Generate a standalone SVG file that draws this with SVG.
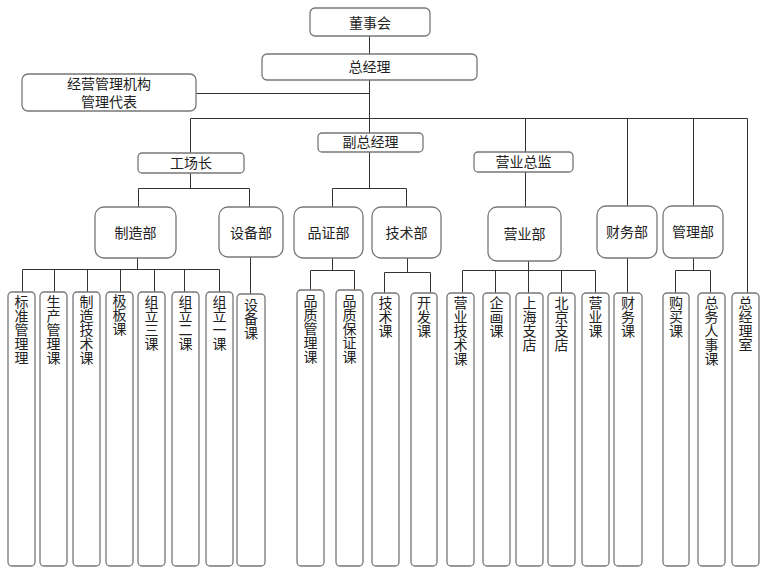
<svg xmlns="http://www.w3.org/2000/svg" width="776" height="572" viewBox="0 0 776 572">
<style>
.box{fill:#fff;stroke:#777;stroke-width:1.3}
.ln{fill:none;stroke:#333;stroke-width:1}
text{font-family:"Noto Sans CJK SC","Noto Sans",sans-serif;font-size:14px;fill:#222;text-anchor:middle}
</style>
<rect width="776" height="572" fill="#fff"/>
<g id="connectors" class="ln">
<path d="M369.5 36V54M369.5 80V188M196 93.5H369.5M190.5 118.5H747.5M190.5 118.5V153M525.5 118.5V207M627.5 118.5V206M693.5 118.5V206M747.5 118.5V293"/>
<path d="M190.5 173V188.5M138.5 188.5H249.5M138.5 188.5V207M249.5 188.5V207"/>
<path d="M332.5 188.5H406.5M332.5 188.5V207M406.5 188.5V207"/>
<path d="M137.5 258V269.5M22.5 269.5H219.5M22.5 269.5V292M54.5 269.5V292M87.5 269.5V292M120.5 269.5V292M154.5 269.5V292M184.5 269.5V292M219.5 269.5V292"/>
<path d="M250.5 257V294"/>
<path d="M332.5 258V270.5M310.5 270.5H354.5M310.5 270.5V290M354.5 270.5V290"/>
<path d="M407.5 258V272.5M384.5 272.5H430.5M384.5 272.5V293M430.5 272.5V293"/>
<path d="M528.5 261V270.5M462.5 270.5H595.5M462.5 270.5V293M495.5 270.5V293M528.5 270.5V293M561.5 270.5V293M595.5 270.5V293"/>
<path d="M627.5 258V293"/>
<path d="M693.5 258V270.5M675.5 270.5H710.5M675.5 270.5V293M710.5 270.5V293"/>
</g>
<g id="n-board"><rect class="box" x="310" y="8" width="120" height="28" rx="5"/><text x="370" y="28">董事会</text></g>
<g id="n-gm"><rect class="box" x="262" y="54" width="215" height="26" rx="5"/><text x="369.5" y="72">总经理</text></g>
<g id="n-rep"><rect class="box" x="22" y="74" width="174" height="37" rx="6"/><text x="109" y="89">经营管理机构</text><text x="109" y="107">管理代表</text></g>
<g id="n-vgm"><rect class="box" x="318" y="133" width="105" height="19" rx="4"/><text x="370.5" y="147">副总经理</text></g>
<g id="n-factory"><rect class="box" x="138" y="153" width="106" height="20" rx="4"/><text x="191" y="168">工场长</text></g>
<g id="n-sales-dir"><rect class="box" x="474" y="152" width="99" height="20" rx="4"/><text x="523.5" y="167">营业总监</text></g>
<g id="n-mfg"><rect class="box" x="95" y="207" width="81" height="51" rx="9"/><text x="135.5" y="238">制造部</text></g>
<g id="n-equip"><rect class="box" x="219" y="207" width="64" height="50" rx="9"/><text x="251" y="238">设备部</text></g>
<g id="n-qa"><rect class="box" x="294" y="207" width="69" height="51" rx="9"/><text x="328.5" y="238">品证部</text></g>
<g id="n-tech"><rect class="box" x="372" y="207" width="69" height="51" rx="9"/><text x="406.5" y="238">技术部</text></g>
<g id="n-sales"><rect class="box" x="488" y="207" width="73" height="54" rx="9"/><text x="524.5" y="239">营业部</text></g>
<g id="n-fin"><rect class="box" x="597" y="206" width="60" height="52" rx="9"/><text x="627" y="237">财务部</text></g>
<g id="n-admin"><rect class="box" x="663" y="206" width="60" height="52" rx="9"/><text x="693" y="237">管理部</text></g>
<g id="c1"><rect class="box" x="8" y="292" width="27" height="274" rx="4"/><text><tspan x="21.5" y="307">标</tspan><tspan x="21.5" y="321">准</tspan><tspan x="21.5" y="335">管</tspan><tspan x="21.5" y="349">理</tspan><tspan x="21.5" y="363">理</tspan></text></g>
<g id="c2"><rect class="box" x="40" y="292" width="27" height="274" rx="4"/><text><tspan x="53.5" y="307">生</tspan><tspan x="53.5" y="321">产</tspan><tspan x="53.5" y="335">管</tspan><tspan x="53.5" y="349">理</tspan><tspan x="53.5" y="363">课</tspan></text></g>
<g id="c3"><rect class="box" x="73" y="292" width="27" height="274" rx="4"/><text><tspan x="86.5" y="307">制</tspan><tspan x="86.5" y="321">造</tspan><tspan x="86.5" y="335">技</tspan><tspan x="86.5" y="349">术</tspan><tspan x="86.5" y="363">课</tspan></text></g>
<g id="c4"><rect class="box" x="106" y="292" width="27" height="274" rx="4"/><text><tspan x="119.5" y="306">极</tspan><tspan x="119.5" y="320">板</tspan><tspan x="119.5" y="334">课</tspan></text></g>
<g id="c5"><rect class="box" x="138" y="292" width="27" height="274" rx="4"/><text><tspan x="151.5" y="307">组</tspan><tspan x="151.5" y="321">立</tspan><tspan x="151.5" y="335">三</tspan><tspan x="151.5" y="349">课</tspan></text></g>
<g id="c6"><rect class="box" x="172" y="292" width="27" height="274" rx="4"/><text><tspan x="185.5" y="307">组</tspan><tspan x="185.5" y="321">立</tspan><tspan x="185.5" y="335">二</tspan><tspan x="185.5" y="349">课</tspan></text></g>
<g id="c7"><rect class="box" x="206" y="292" width="27" height="274" rx="4"/><text><tspan x="219.5" y="307">组</tspan><tspan x="219.5" y="321">立</tspan><tspan x="219.5" y="335">一</tspan><tspan x="219.5" y="349">课</tspan></text></g>
<g id="c8"><rect class="box" x="237" y="294" width="28" height="272" rx="4"/><text><tspan x="251" y="310">设</tspan><tspan x="251" y="324">备</tspan><tspan x="251" y="338">课</tspan></text></g>
<g id="c9"><rect class="box" x="297" y="290" width="27" height="276" rx="4"/><text><tspan x="310.5" y="306">品</tspan><tspan x="310.5" y="320">质</tspan><tspan x="310.5" y="334">管</tspan><tspan x="310.5" y="348">理</tspan><tspan x="310.5" y="362">课</tspan></text></g>
<g id="c10"><rect class="box" x="336" y="290" width="27" height="276" rx="4"/><text><tspan x="349.5" y="306">品</tspan><tspan x="349.5" y="320">质</tspan><tspan x="349.5" y="334">保</tspan><tspan x="349.5" y="348">证</tspan><tspan x="349.5" y="362">课</tspan></text></g>
<g id="c11"><rect class="box" x="372" y="293" width="27" height="273" rx="4"/><text><tspan x="385.5" y="308">技</tspan><tspan x="385.5" y="322">术</tspan><tspan x="385.5" y="336">课</tspan></text></g>
<g id="c12"><rect class="box" x="411" y="293" width="26" height="273" rx="4"/><text><tspan x="424" y="308">开</tspan><tspan x="424" y="322">发</tspan><tspan x="424" y="336">课</tspan></text></g>
<g id="c13"><rect class="box" x="447" y="293" width="27" height="273" rx="4"/><text><tspan x="460.5" y="308">营</tspan><tspan x="460.5" y="322">业</tspan><tspan x="460.5" y="336">技</tspan><tspan x="460.5" y="350">术</tspan><tspan x="460.5" y="364">课</tspan></text></g>
<g id="c14"><rect class="box" x="483" y="293" width="27" height="273" rx="4"/><text><tspan x="496.5" y="308">企</tspan><tspan x="496.5" y="322">画</tspan><tspan x="496.5" y="336">课</tspan></text></g>
<g id="c15"><rect class="box" x="516" y="293" width="27" height="273" rx="4"/><text><tspan x="529.5" y="308">上</tspan><tspan x="529.5" y="322">海</tspan><tspan x="529.5" y="336">支</tspan><tspan x="529.5" y="350">店</tspan></text></g>
<g id="c16"><rect class="box" x="548" y="293" width="27" height="273" rx="4"/><text><tspan x="561.5" y="308">北</tspan><tspan x="561.5" y="322">京</tspan><tspan x="561.5" y="336">支</tspan><tspan x="561.5" y="350">店</tspan></text></g>
<g id="c17"><rect class="box" x="582" y="293" width="27" height="273" rx="4"/><text><tspan x="595.5" y="308">营</tspan><tspan x="595.5" y="322">业</tspan><tspan x="595.5" y="336">课</tspan></text></g>
<g id="c18"><rect class="box" x="614" y="293" width="28" height="273" rx="4"/><text><tspan x="628" y="308">财</tspan><tspan x="628" y="322">务</tspan><tspan x="628" y="336">课</tspan></text></g>
<g id="c19"><rect class="box" x="663" y="293" width="26" height="273" rx="4"/><text><tspan x="676" y="308">购</tspan><tspan x="676" y="322">买</tspan><tspan x="676" y="336">课</tspan></text></g>
<g id="c20"><rect class="box" x="698" y="293" width="27" height="273" rx="4"/><text><tspan x="711.5" y="308">总</tspan><tspan x="711.5" y="322">务</tspan><tspan x="711.5" y="336">人</tspan><tspan x="711.5" y="350">事</tspan><tspan x="711.5" y="364">课</tspan></text></g>
<g id="c21"><rect class="box" x="732" y="293" width="27" height="273" rx="4"/><text><tspan x="745.5" y="308">总</tspan><tspan x="745.5" y="322">经</tspan><tspan x="745.5" y="336">理</tspan><tspan x="745.5" y="350">室</tspan></text></g>
</svg>
